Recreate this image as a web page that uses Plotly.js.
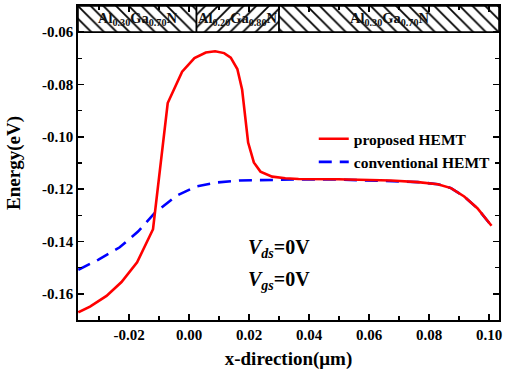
<!DOCTYPE html>
<html>
<head>
<meta charset="utf-8">
<script src="https://cdn.plot.ly/plotly-3.0.1.min.js"></script>
<style>html,body{margin:0;padding:0;background:#fff;}#chart{width:506px;height:373px;}</style>
</head>
<body>
<div id="chart"></div>
<script>
// ---- data ----
const proposedX = [-0.0369, -0.0330, -0.0275, -0.0225, -0.0173, -0.0120, -0.0071, -0.0023, 0.0018, 0.0056, 0.0087, 0.0117, 0.0139, 0.0161, 0.0177, 0.0197, 0.0216, 0.0238, 0.0277, 0.0321, 0.0365, 0.0497, 0.0673, 0.0763, 0.0829, 0.0873, 0.0917, 0.0961, 0.1008];
const proposedY = [-0.1671, -0.1649, -0.1608, -0.1555, -0.1480, -0.1353, -0.0871, -0.0751, -0.0699, -0.0678, -0.0673, -0.0680, -0.0697, -0.0741, -0.0820, -0.1022, -0.1098, -0.1133, -0.1152, -0.1158, -0.1161, -0.1162, -0.1167, -0.1173, -0.1181, -0.1196, -0.1228, -0.1273, -0.1340];
const conventionalX = [-0.0369, -0.0303, -0.0231, -0.0170, -0.0115, -0.0043, 0.0023, 0.0089, 0.0167, 0.0276, 0.0365, 0.0497, 0.0673, 0.0763, 0.0829, 0.0873, 0.0917, 0.0961, 0.1008];
const conventionalY = [-0.1508, -0.1470, -0.1422, -0.1362, -0.1292, -0.1226, -0.1190, -0.1175, -0.1167, -0.1164, -0.1163, -0.1163, -0.1168, -0.1173, -0.1181, -0.1196, -0.1228, -0.1273, -0.1340];

const layerStart = [-0.037, 0.0025, 0.03];
const layerEnd = [0.0025, 0.03, 0.1033];
const layerLabels = ['Al<sub>0.30</sub>Ga<sub>0.70</sub>N', 'Al<sub>0.20</sub>Ga<sub>0.80</sub>N', 'Al<sub>0.30</sub>Ga<sub>0.70</sub>N'];
const layerHatch = ['\\', '/', '\\'];
const layerBottom = -0.06;
const layerTop = -0.05;

const xTickVals = [-0.02, 0.00, 0.02, 0.04, 0.06, 0.08, 0.10];
const xTickText = ['-0.02', '0.00', '0.02', '0.04', '0.06', '0.08', '0.10'];
const yTickVals = [-0.16, -0.14, -0.12, -0.10, -0.08, -0.06];
const yTickText = ['-0.16', '-0.14', '-0.12', '-0.10', '-0.08', '-0.06'];

const seriesNames = ['proposed HEMT', 'conventional HEMT'];
const biasLabels = ['<i>V</i><sub><i>ds</i></sub>=0V', '<i>V</i><sub><i>gs</i></sub>=0V'];
const biasY = [-0.1428, -0.1548];
const biasX = 0.0190;

// ---- chart ----
const SERIF = 'Liberation Serif, Times New Roman, serif';
const traces = [];
for (let i = 0; i < layerStart.length; i++) {
  traces.push({
    type: 'scatter', mode: 'lines',
    x: [layerStart[i], layerEnd[i], layerEnd[i], layerStart[i], layerStart[i]],
    y: [layerBottom, layerBottom, layerTop, layerTop, layerBottom],
    fill: 'toself', fillcolor: 'white',
    fillpattern: {shape: layerHatch[i], fgcolor: '#000', bgcolor: '#fff', size: 9, solidity: 0.2},
    line: {color: '#000', width: 1.6},
    showlegend: false, hoverinfo: 'skip', cliponaxis: false
  });
}
traces.push({
  type: 'scatter', mode: 'lines', name: seriesNames[1], legendrank: 2,
  x: conventionalX, y: conventionalY,
  line: {color: '#0000ff', width: 2.6, dash: '13px,8px'}
});
traces.push({
  type: 'scatter', mode: 'lines', name: seriesNames[0], legendrank: 1,
  x: proposedX, y: proposedY,
  line: {color: '#ff0000', width: 2.6}
});

const annotations = [];
for (let i = 0; i < layerLabels.length; i++) {
  annotations.push({
    x: (layerStart[i] + layerEnd[i]) / 2, y: (layerBottom + layerTop) / 2,
    xref: 'x', yref: 'y', text: layerLabels[i], showarrow: false,
    xanchor: 'center', yanchor: 'middle',
    font: {family: SERIF, size: 14.5, color: '#111', weight: 'bold'}
  });
}
for (let i = 0; i < biasLabels.length; i++) {
  annotations.push({
    x: biasX, y: biasY[i], xref: 'x', yref: 'y', text: biasLabels[i], showarrow: false,
    xanchor: 'left', yanchor: 'middle',
    font: {family: SERIF, size: 20, color: '#000', weight: 'bold'}
  });
}

const axisCommon = {
  showgrid: false, zeroline: false, showline: true, linecolor: '#000', linewidth: 1.8,
  mirror: 'ticks', ticks: 'inside', ticklen: 6, tickwidth: 1.5, tickcolor: '#000',
  tickmode: 'array',
  tickfont: {family: SERIF, size: 15, color: '#000', weight: 'bold'},
  automargin: false
};

const layout = {
  width: 506, height: 373,
  margin: {l: 78, r: 7, t: 6, b: 53},
  paper_bgcolor: '#fff', plot_bgcolor: '#fff',
  showlegend: true,
  legend: {
    x: 0.56, y: 0.63, xanchor: 'left', yanchor: 'top',
    bgcolor: 'rgba(0,0,0,0)', borderwidth: 0,
    font: {family: SERIF, size: 15.5, color: '#000', weight: 'bold'},
    tracegroupgap: 0
  },
  xaxis: Object.assign({}, axisCommon, {
    range: [-0.037, 0.1033],
    tickvals: xTickVals, ticktext: xTickText,
    minor: {dtick: 0.01, ticks: 'inside', ticklen: 4, tickwidth: 1.3, tickcolor: '#000', showgrid: false},
    title: {text: 'x-direction(μm)', font: {family: SERIF, size: 19, color: '#000', weight: 'bold'}, standoff: 10}
  }),
  yaxis: Object.assign({}, axisCommon, {
    range: [-0.17, -0.05],
    tickvals: yTickVals, ticktext: yTickText,
    minor: {dtick: 0.01, ticks: 'inside', ticklen: 4, tickwidth: 1.3, tickcolor: '#000', showgrid: false},
    title: {text: 'Energy(eV)', font: {family: SERIF, size: 19, color: '#000', weight: 'bold'}, standoff: 16}
  }),
  annotations: annotations
};

Plotly.newPlot('chart', traces, layout, {displayModeBar: false, staticPlot: true});
</script>
</body>
</html>
